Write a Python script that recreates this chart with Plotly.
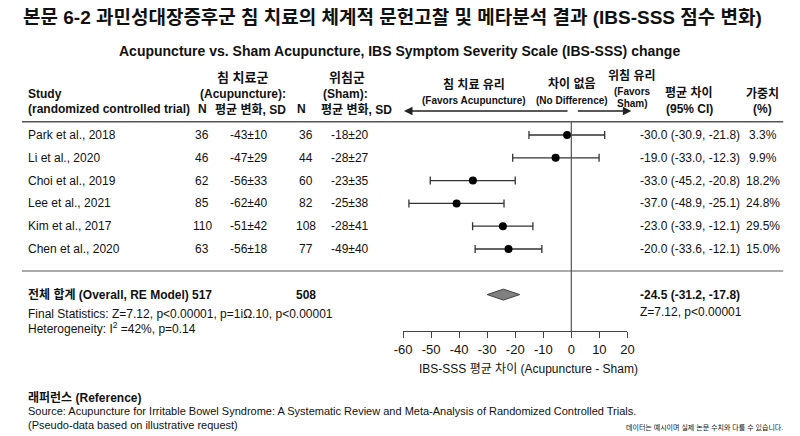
import plotly.graph_objects as go

# ---- data ----
studies = ["Park et al., 2018", "Li et al., 2020", "Choi et al., 2019",
           "Lee et al., 2021", "Kim et al., 2017", "Chen et al., 2020"]
acu_n = [36, 46, 62, 85, 110, 63]
acu_mean = [-43, -47, -56, -62, -51, -56]
acu_sd = [10, 29, 33, 40, 42, 18]
sham_n = [36, 44, 60, 82, 108, 77]
sham_mean = [-18, -28, -23, -25, -28, -49]
sham_sd = [20, 27, 35, 38, 41, 40]

# printed effect sizes
md_label = [-30.0, -19.0, -33.0, -37.0, -23.0, -20.0]
lo_label = [-30.9, -33.0, -45.2, -48.9, -33.9, -33.6]
hi_label = [-21.8, -12.3, -20.8, -25.1, -12.1, -12.1]
weights = [3.3, 9.9, 18.2, 24.8, 29.5, 15.0]

# where the points / whiskers are actually drawn in the figure
est_drawn = [-1.5, -5.6, -35.1, -40.9, -24.4, -22.4]
lo_drawn = [-15.1, -20.9, -50.3, -57.9, -35.2, -34.3]
hi_drawn = [11.9, 9.9, -20.0, -24.0, -13.7, -10.5]

total_acu_n = 517
total_sham_n = 508
overall_md = -24.5
overall_lo = -31.2
overall_hi = -17.8
diamond_drawn = [-30.0, -24.2, -18.4]   # lo, centre, hi as drawn

x_ticks = [-60, -50, -40, -30, -20, -10, 0, 10, 20]

FONT = "Liberation Sans, Arial, Noto Sans CJK KR"
# the page body has an 8px margin, so the figure sits at (8, 8) in the window
OFF = 8
W, H = 800 - OFF, 436 - OFF
ROW0, ROWH = 135, 22.8   # window pixel of first row, row height


def px(x):
    return (x - OFF) / W


def py(y):
    return 1 - (y - OFF) / H


def row(y):
    return (y - ROW0) / ROWH


fig = go.Figure()

rows = list(range(len(studies)))
overall_row = 7

# study CIs
fig.add_trace(go.Scatter(
    x=est_drawn, y=rows, mode="markers",
    marker=dict(color="black", size=8),
    error_x=dict(type="data", symmetric=False,
                 array=[h - e for h, e in zip(hi_drawn, est_drawn)],
                 arrayminus=[e - l for e, l in zip(est_drawn, lo_drawn)],
                 color="#333333", thickness=1.3, width=4),
    hoverinfo="skip", showlegend=False))

# overall diamond
dl, dc, dh = diamond_drawn
fig.add_trace(go.Scatter(
    x=[dl, dc, dh, dc, dl], y=[overall_row, overall_row - 0.24, overall_row,
                                overall_row + 0.24, overall_row],
    mode="lines", fill="toself", fillcolor="#808080",
    line=dict(color="#404040", width=1),
    hoverinfo="skip", showlegend=False))

# lines
fig.add_shape(type="line", xref="x", yref="y", x0=0, x1=0, y0=row(121.7), y1=row(331),
              line=dict(color="#555555", width=1.2))
for yy, ww in [(121.7, 1.5), (271, 1.2)]:
    fig.add_shape(type="line", xref="paper", yref="y", x0=px(13), x1=px(790),
                  y0=row(yy), y1=row(yy), line=dict(color="#555555", width=ww))

anns = []


def txt(x, y, s, size=12, anchor="left", color="#111111", yref="paper"):
    anns.append(dict(x=px(x), y=py(y) if yref == "paper" else y, xref="paper", yref=yref,
                     text=s, showarrow=False, xanchor=anchor, yanchor="middle",
                     font=dict(size=size, color=color, family=FONT)))


# titles
txt(12, 17, "<b>본문 6-2 과민성대장증후군 침 치료의 체계적 문헌고찰 및 메타분석 결과 (IBS-SSS 점수 변화)</b>", 19)
txt(398, 51, "<b>Acupuncture vs. Sham Acupuncture, IBS Symptom Severity Scale (IBS-SSS) change</b>", 14, "center")

# column headers
txt(17, 94, "<b>Study</b>")
txt(17, 109, "<b>(randomized controlled trial)</b>")
txt(238, 78, "<b>침 치료군</b>", 13, "center")
txt(239, 94, "<b>(Acupuncture):</b>", 12, "center")
txt(197, 109, "<b>N</b>", 12, "center")
txt(246, 109, "<b>평균 변화, SD</b>", 12, "center")
txt(345, 78, "<b>위침군</b>", 13, "center")
txt(343, 94, "<b>(Sham):</b>", 12, "center")
txt(298, 109, "<b>N</b>", 12, "center")
txt(354, 109, "<b>평균 변화, SD</b>", 12, "center")

txt(474, 84, "<b>침 치료 유리</b>", 12, "center")
txt(474, 100, "<b>(Favors Acupuncture)</b>", 10, "center")
txt(574, 84, "<b>차이 없음</b>", 12, "center")
txt(574, 100, "<b>(No Difference)</b>", 10, "center")
txt(636, 75, "<b>위침 유리</b>", 12, "center")
txt(636, 91, "<b>(Favors</b>", 10, "center")
txt(636, 103, "<b>Sham)</b>", 10, "center")
txt(694, 93, "<b>평균 차이</b>", 12, "center")
txt(694, 109, "<b>(95% CI)</b>", 12, "center")
txt(769, 93, "<b>가중치</b>", 12, "center")
txt(769, 109, "<b>(%)</b>", 12, "center")

# arrows
for x_head, x_tail in [(403, 568), (635, 580)]:
    anns.append(dict(x=px(x_head), y=py(111), xref="paper", yref="paper",
                     ax=x_tail - x_head, ay=0, axref="pixel", ayref="pixel",
                     text="", showarrow=True, arrowhead=2, arrowsize=1.3,
                     arrowwidth=1.3, arrowcolor="#222222"))

# study rows
for i, name in enumerate(studies):
    txt(17, i, name, yref="y")
    txt(197, i, str(acu_n[i]), anchor="center", yref="y")
    txt(245, i, f"{acu_mean[i]}±{acu_sd[i]}", anchor="center", yref="y")
    txt(303, i, str(sham_n[i]), anchor="center", yref="y")
    txt(348, i, f"{sham_mean[i]}±{sham_sd[i]}", anchor="center", yref="y")
    txt(642, i, f"{md_label[i]:.1f} ({lo_label[i]:.1f}, {hi_label[i]:.1f})", yref="y")
    txt(769, i, f"{weights[i]:.1f}%", anchor="center", yref="y")

# overall
txt(17, overall_row, "<b>전체 합계 (Overall, RE Model)</b>", yref="y")
txt(197, overall_row, f"<b>{total_acu_n}</b>", anchor="center", yref="y")
txt(303, overall_row, f"<b>{total_sham_n}</b>", anchor="center", yref="y")
txt(642, overall_row, f"<b>{overall_md:.1f} ({overall_lo:.1f}, {overall_hi:.1f})</b>", yref="y")
txt(642, 312, "Z=7.12, p<0.00001")
txt(17, 314, "Final Statistics: Z=7.12, p<0.00001, p=1iΩ.10, p<0.00001")
txt(17, 328, "Heterogeneity: I<sup>2</sup> =42%, p=0.14")

# axis title
txt(530, 369, "IBS-SSS 평균 차이 (Acupuncture - Sham)", 12, "center")

# reference block
txt(17, 397, "<b>래퍼런스 (Reference)</b>", 12)
txt(17, 411, "Source: Acupuncture for Irritable Bowel Syndrome: A Systematic Review and Meta-Analysis of Randomized Controlled Trials.", 11)
txt(17, 425, "(Pseudo-data based on illustrative request)", 11)
txt(792, 427, "데이터는 예시이며 실제 논문 수치와 다를 수 있습니다.", 7, "right")

fig.update_layout(
    width=W, height=H,
    margin=dict(l=0, r=0, t=0, b=0),
    paper_bgcolor="white", plot_bgcolor="rgba(0,0,0,0)",
    font=dict(family=FONT, color="#111111"),
    annotations=anns,
    xaxis=dict(domain=[px(402), px(631)], range=[-60, 20], tickvals=x_ticks,
               ticktext=[str(v) for v in x_ticks],
               anchor="free", position=py(331), showline=True, linecolor="#444444",
               linewidth=1.3, ticks="outside", ticklen=6, tickcolor="#444444",
               tickwidth=1.3, showgrid=False, zeroline=False,
               tickfont=dict(size=13, family=FONT, color="#111111")),
    yaxis=dict(domain=[0, 1], range=[row(436), row(OFF)], visible=False,
               showgrid=False, zeroline=False),
)

fig.write_html("out.html")
